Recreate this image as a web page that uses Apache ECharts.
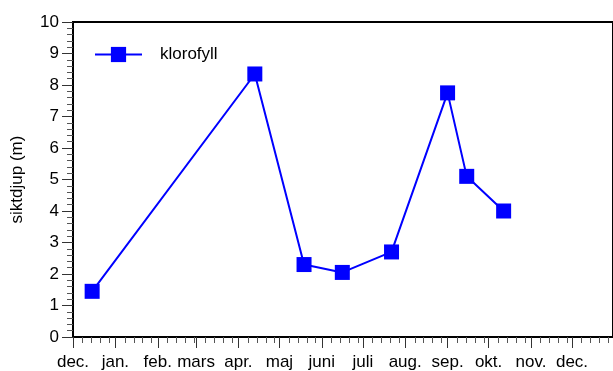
<!DOCTYPE html>
<html>
<head>
<meta charset="utf-8">
<script src="https://cdn.jsdelivr.net/npm/echarts@6/dist/echarts.min.js"></script>
<style>
  html, body { margin: 0; padding: 0; background: #fff; }
  #chart { width: 613px; height: 371px; }
</style>
</head>
<body>
<div id="chart"></div>
<script>
// Sampling dates and Secchi depth (m)
const sampleDates = ['2010-12-15', '2011-04-13', '2011-05-19', '2011-06-16', '2011-07-22', '2011-09-01', '2011-09-15', '2011-10-12'];
const siktdjup = [1.45, 8.35, 2.3, 2.05, 2.7, 7.75, 5.1, 4.0];

// Month tick labels, one per month start from Dec to Dec
const monthLabels = ['dec.', 'jan.', 'feb.', 'mars', 'apr.', 'maj', 'juni', 'juli', 'aug.', 'sep.', 'okt.', 'nov.', 'dec.'];
const seriesName = 'klorofyll';
const yTitle = 'siktdjup (m)';

// x is measured in days from 1 Dec of the first year
const DAY = 86400000;
const origin = Date.UTC(2010, 11, 1);
const dayOf = s => { const p = s.split('-').map(Number); return (Date.UTC(p[0], p[1] - 1, p[2]) - origin) / DAY; };
const axisMax = (Date.UTC(2011, 11, 31) - origin) / DAY;

// month starts (major ticks + labels)
const monthStarts = monthLabels.map((_, i) => (Date.UTC(2010, 11 + i, 1) - origin) / DAY);
// minor ticks inside each month
const minorTicks = [];
monthStarts.forEach(t => [7, 13.5, 20, 26.5].forEach(d => {
  if (t + d <= axisMax) minorTicks.push(t + d);
}));

const points = sampleDates.map((d, i) => [dayOf(d), siktdjup[i]]);
const FONT = 'Liberation Sans, Arial, sans-serif';

const chart = echarts.init(document.getElementById('chart'), null, { renderer: 'canvas' });
chart.setOption({
  animation: false,
  backgroundColor: '#fff',
  grid: {
    left: 73, top: 22, width: 542, height: 316,
    show: true, borderColor: '#000', borderWidth: 2, backgroundColor: 'transparent'
  },
  legend: {
    left: 89, top: 41,
    itemWidth: 47, itemHeight: 19,
    data: [seriesName],
    textStyle: { fontFamily: FONT, fontSize: 17, color: '#000', padding: [0, 0, 0, 13] }
  },
  xAxis: [{
    type: 'value', min: 0, max: axisMax,
    axisLine: { show: true, onZero: false, lineStyle: { color: '#000', width: 2 } },
    axisTick: { show: true, length: 11, customValues: monthStarts, lineStyle: { color: '#333', width: 1 } },
    axisLabel: {
      show: true, margin: 17, customValues: monthStarts, hideOverlap: false,
      fontFamily: FONT, fontSize: 17, color: '#000',
      formatter: v => {
        const idx = monthStarts.indexOf(v);
        return idx >= 0 ? monthLabels[idx] : '';
      }
    },
    splitLine: { show: false }
  }, {
    type: 'value', min: 0, max: axisMax, position: 'bottom',
    axisLine: { show: false, onZero: false },
    axisTick: { show: true, length: 6, customValues: minorTicks, lineStyle: { color: '#555', width: 1 } },
    axisLabel: { show: false },
    splitLine: { show: false }
  }],
  yAxis: {
    type: 'value', min: 0, max: 10, interval: 1,
    name: yTitle, nameLocation: 'middle', nameGap: 47,
    nameTextStyle: { fontFamily: FONT, fontSize: 17, color: '#000' },
    axisLine: { show: true, lineStyle: { color: '#000', width: 2 } },
    axisTick: { show: true, length: 11, lineStyle: { color: '#333', width: 1 } },
    minorTick: { show: true, splitNumber: 5, length: 6, lineStyle: { color: '#555', width: 1 } },
    axisLabel: { margin: 14, fontFamily: FONT, fontSize: 17, color: '#000' },
    splitLine: { show: false }
  },
  series: [{
    name: seriesName,
    type: 'line',
    data: points,
    symbol: 'rect', symbolSize: 15,
    lineStyle: { color: '#0000ff', width: 2 },
    itemStyle: { color: '#0000ff' }
  }]
});
</script>
</body>
</html>
